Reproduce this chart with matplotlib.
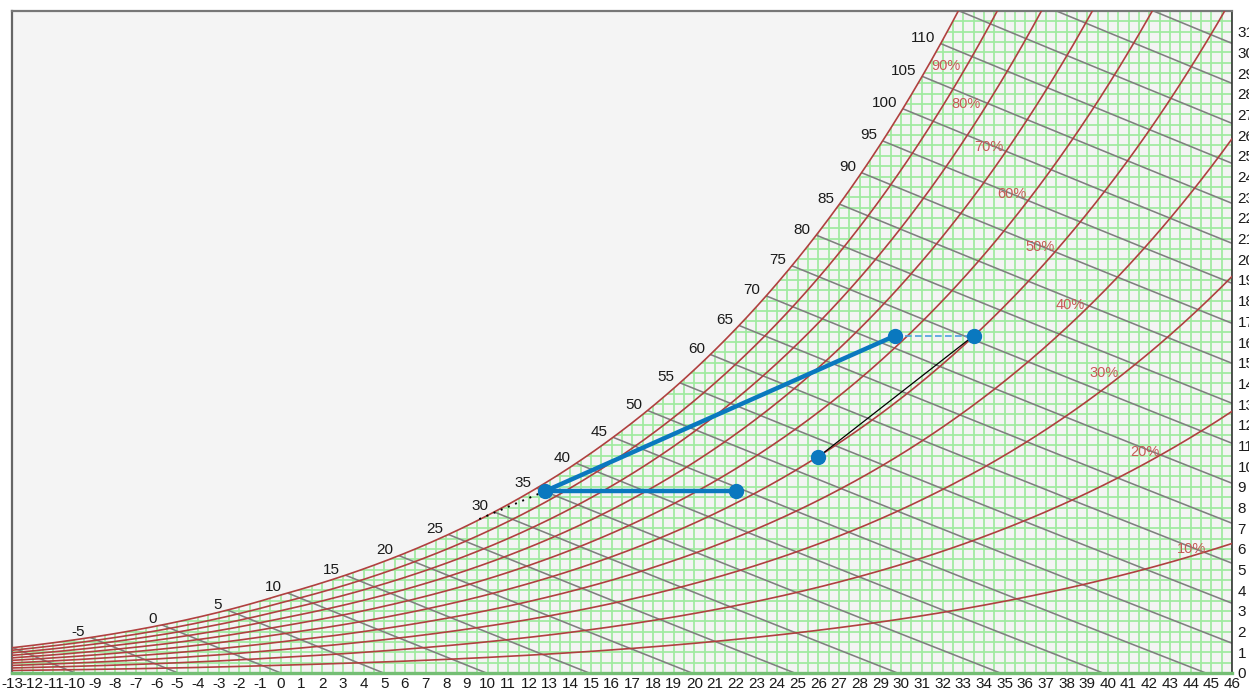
import numpy as np
import matplotlib
matplotlib.use('Agg')
import matplotlib.pyplot as plt
from matplotlib.patches import Polygon
from matplotlib.collections import LineCollection

plt.rcParams['font.family'] = ['Liberation Sans', 'DejaVu Sans']

# ---------------- data ----------------
PRESSURE = 101.325  # kPa
T_MIN, T_MAX = -13, 46
W_MAX = 32

x_ticks = list(range(-13, 47))
y_ticks = list(range(0, 32))

rh_levels = [10, 20, 30, 40, 50, 60, 70, 80, 90, 100]
rh_label_text = ['10%', '20%', '30%', '40%', '50%', '60%', '70%', '80%', '90%']
rh_label_T = [44.06, 41.79, 39.80, 38.16, 36.71, 35.36, 34.24, 33.13, 32.16]
rh_label_W = [6.0, 10.69, 14.5, 17.8, 20.6, 23.16, 25.43, 27.51, 29.35]

enthalpy_lines = list(range(-10, 140, 5))
enthalpy_labels = list(range(-5, 115, 5))

# process points (dry bulb degC, humidity ratio g/kg)
pt_T = [12.8, 22.0, 29.7, 33.5, 26.0]
pt_W = [8.8, 8.8, 16.3, 16.3, 10.45]
dotted_T = [12.8, 9.5]
dotted_W = [8.8, 7.4]


# ---------------- psychrometrics ----------------
def psat(t):
    t = np.asarray(t, dtype=float)
    water = 0.61094 * np.exp(17.625 * t / (t + 243.04))
    ice = 0.61115 * np.exp(22.452 * t / (272.55 + t))
    return np.where(t < 0, ice, water)


def w_rh(t, rh):
    pv = rh / 100.0 * psat(t)
    return 622.0 * pv / (PRESSURE - pv)  # g/kg


def enthalpy(t, w):
    return 1.006 * t + w / 1000.0 * (2501 + 1.86 * t)


def t_sat_for_h(h):
    lo, hi = -40.0, 80.0
    for _ in range(80):
        mid = 0.5 * (lo + hi)
        if enthalpy(mid, w_rh(mid, 100)) > h:
            hi = mid
        else:
            lo = mid
    return 0.5 * (lo + hi)


# ---------------- figure ----------------
fig = plt.figure(figsize=(12.49, 6.90), dpi=100)
ax = fig.add_axes([12 / 1249, 1 - 673 / 690, 1220 / 1249, 662 / 690])
ax.set_facecolor('#f4f4f4')
ax.set_xlim(T_MIN, T_MAX)
ax.set_ylim(0, W_MAX)

tt = np.linspace(T_MIN, T_MAX, 600)
wsat = w_rh(tt, 100)
clip_poly = Polygon(np.column_stack([np.r_[tt, T_MAX, T_MIN], np.r_[wsat, 0, 0]]),
                    closed=True, transform=ax.transData, facecolor='none', edgecolor='none')
ax.add_patch(clip_poly)

# green grid under the saturation curve
segs = []
for x in np.arange(T_MIN, T_MAX + 0.01, 0.5):
    segs.append([(x, 0), (x, W_MAX + 5)])
for y in np.arange(0.5, W_MAX + 0.01, 0.5):
    segs.append([(T_MIN, y), (T_MAX, y)])
grid = LineCollection(segs, colors='#9fea9f', linewidths=1.25, zorder=1)
ax.add_collection(grid)
grid.set_clip_path(clip_poly)

# enthalpy lines
for h in enthalpy_lines:
    ts = t_sat_for_h(h)
    t0 = h / 1.006
    tl = np.linspace(ts, t0, 200)
    wl = (h - 1.006 * tl) / (2501 + 1.86 * tl) * 1000.0
    ln, = ax.plot(tl, wl, color='#7f7f7f', lw=1.15, zorder=2)
    ln.set_clip_path(clip_poly)

# relative humidity curves
for rh in rh_levels:
    ax.plot(tt, w_rh(tt, rh), color='#b0403f', lw=1.2, zorder=3)

# bottom line
ax.plot([T_MIN, T_MAX], [0, 0], color='#74be74', lw=2.4, zorder=3, clip_on=False)

# RH labels
for txt, lt, lw_ in zip(rh_label_text, rh_label_T, rh_label_W):
    ax.text(lt, lw_, txt, color='#c65a56', fontsize=10.5, ha='center', va='center', zorder=4)

# enthalpy labels
for h in enthalpy_labels:
    ts = t_sat_for_h(h)
    ws = float(w_rh(ts, 100))
    ax.annotate(str(h), (ts, ws), xytext=(-4, 4), textcoords='offset points',
                ha='right', va='center', fontsize=11, color='#1a1a1a', zorder=4)

# process
blue = '#0a78bf'
ax.plot(dotted_T, dotted_W, color='black', lw=1.4, ls=(0, (1, 3)), zorder=5)
ax.plot([pt_T[0], pt_T[1]], [pt_W[0], pt_W[1]], color=blue, lw=3.2, zorder=6,
        solid_capstyle='round')
ax.plot([pt_T[0], pt_T[2]], [pt_W[0], pt_W[2]], color=blue, lw=3.2, zorder=6,
        solid_capstyle='round')
ax.plot([pt_T[2], pt_T[3]], [pt_W[2], pt_W[3]], color='#4ba0dc', lw=1.2,
        ls=(0, (4, 2)), zorder=5)
ax.plot([pt_T[4], pt_T[3]], [pt_W[4], pt_W[3]], color='black', lw=0.9, zorder=5)
ax.plot(pt_T, pt_W, 'o', color=blue, markersize=10, zorder=7)

# axes styling
ax.set_xticks(x_ticks)
ax.set_xticklabels([str(v) for v in x_ticks])
ax.yaxis.tick_right()
ax.set_yticks(y_ticks)
ax.set_yticklabels([str(v) for v in y_ticks])
ax.tick_params(axis='x', length=0, pad=3, labelsize=11, labelcolor='#1a1a1a')
ax.tick_params(axis='y', length=0, pad=4, labelsize=11, labelcolor='#1a1a1a')
ax.spines['bottom'].set_visible(False)
ax.spines['left'].set_color('#666666')
ax.spines['left'].set_linewidth(1.6)
ax.spines['top'].set_color('#777777')
ax.spines['top'].set_linewidth(1.6)
ax.spines['right'].set_color('#333333')
ax.spines['right'].set_linewidth(1.2)

fig.savefig('out.png', dpi=100, facecolor='white')
